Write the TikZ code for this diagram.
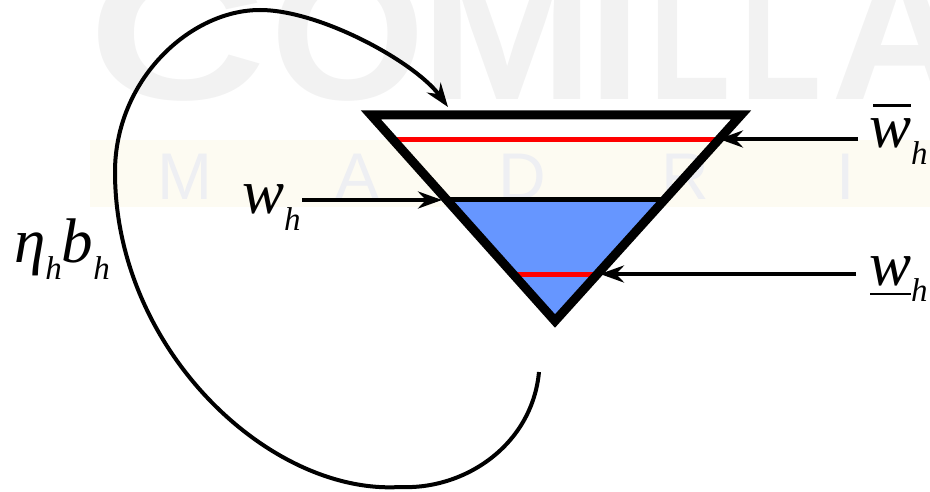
\documentclass[tikz,border=0pt]{standalone}
\usepackage{fontspec}
\setmainfont{Liberation Serif}
\newfontfamily\wmfont{Liberation Sans}
\usetikzlibrary{arrows.meta}
\definecolor{waterblue}{RGB}{102,150,255}
\definecolor{wmgray}{RGB}{242,242,242}
\definecolor{wmband}{RGB}{253,251,242}
\definecolor{wmletter}{RGB}{238,239,243}
\definecolor{levelred}{RGB}{255,0,0}
\newcommand\bigit[1]{{\fontsize{63}{63}\selectfont\itshape #1}}
\newcommand\subit[1]{\raisebox{-17pt}{\fontsize{33}{33}\selectfont\itshape #1}}
\newcommand\wmch[2]{\scalebox{#1}[1]{#2}}
\tikzset{
  wmbig/.style={inner sep=0pt, anchor=base west, text=wmgray, font=\wmfont\bfseries\fontsize{190}{190}\selectfont},
  wmsmall/.style={inner sep=0pt, anchor=base west, text=wmletter, font=\wmfont\fontsize{66}{66}\selectfont},
  lbl/.style={inner sep=0pt, anchor=base west},
  arr/.style={line width=4pt, -{Stealth[length=24pt,width=17pt,inset=8pt]}},
  vessel/.style={line width=9pt, line join=miter},
  level/.style={line width=5pt, levelred},
  surface/.style={line width=5pt, black}
}
\begin{document}
\begin{tikzpicture}[x=1pt,y=-1pt]
\useasboundingbox (0,0) rectangle (930,492);
% watermark
\begin{scope}
\clip (0,0) rectangle (930,492);
\fill[wmband] (90,140) rectangle (930,207);
\node[wmbig] (wc) at (88,100) {\wmch{1.3}{C}};
\node[wmbig] (wo) at (270,100) {\wmch{1.05}{O}};
\node[wmbig] (wm) at (420,100) {\wmch{1.1}{M}};
\node[wmbig] (wi) at (588,100) {\wmch{1}{I}};
\node[wmbig] (wl1) at (649,100) {\wmch{0.7}{L}};
\node[wmbig] (wl2) at (740,100) {\wmch{0.7}{L}};
\node[wmbig] (wa) at (831,100) {\wmch{1}{A}};
\node[wmsmall] (mm) at (157,200) {M};
\node[wmsmall] (ma) at (335,200) {A};
\node[wmsmall] (md) at (498,200) {D};
\node[wmsmall] (mr) at (661,200) {R};
\node[wmsmall] (mi) at (836,200) {I};
\end{scope}
% vessel geometry
\coordinate (tl) at (371,115);
\coordinate (tr) at (741,115);
\coordinate (ap) at (555,321);
\coordinate (sl) at (446.9,200);
\coordinate (sr) at (664.3,200);
\coordinate (ul) at (393.3,140);
\coordinate (ur) at (718.4,140);
\coordinate (ll) at (513,274);
\coordinate (lr) at (597.4,274);
% water
\fill[waterblue] (sl) -- (sr) -- (ap) -- cycle;
\draw[surface] (sl) -- (sr);
\draw[level] (ul) -- (ur);
\draw[level] (ll) -- (lr);
\draw[vessel] (tl) -- (tr) -- (ap) -- cycle;
% labels
\node[lbl] (wbar) at (869,148) {\rlap{\hspace{4pt}\raisebox{41pt}{\rule{38pt}{2.5pt}}}\bigit{w}\subit{h}};
\node[lbl] (wmid) at (242,214) {\bigit{w}\subit{h}};
\node[lbl] (wund) at (869,285) {\rlap{\hspace{1pt}\raisebox{-10pt}{\rule{41pt}{2.5pt}}}\bigit{w}\subit{h}};
\node[lbl] (eta) at (14,262) {\bigit{η}\subit{h}\bigit{b}\subit{h}};
% arrows
\coordinate (a1s) at (858,139);
\coordinate (a1e) at (719,139);
\coordinate (a2s) at (302,200);
\coordinate (a2e) at (442,200);
\coordinate (a3s) at (856,274);
\coordinate (a3e) at (600,274);
\draw[arr] (a1s) -- (a1e);
\draw[arr] (a2s) -- (a2e);
\draw[arr] (a3s) -- (a3e);
% loop
\coordinate (cs) at (539,372);
\coordinate (cb) at (400,487);
\coordinate (cl) at (115,172);
\coordinate (ct) at (260,10);
\coordinate (ce) at (448,107);
\draw[arr] (cs) .. controls (532,445) and (465,490) .. (cb)
  .. controls (270,495) and (115,350) .. (cl)
  .. controls (115,80) and (190,10) .. (ct)
  .. controls (320,10) and (415,62) .. (ce);
\end{tikzpicture}
\end{document}
